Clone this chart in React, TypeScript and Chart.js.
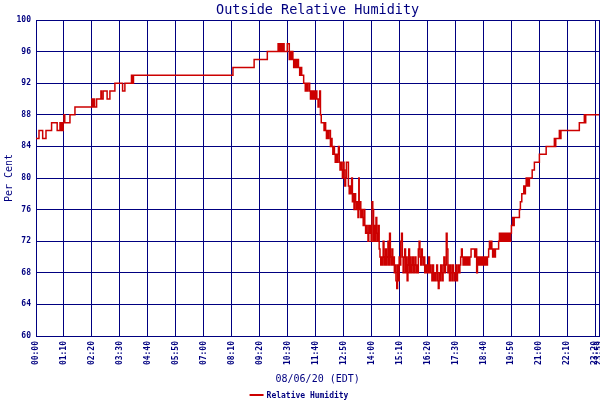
import React, { useEffect, useRef } from "react";
import { Chart, registerables } from "chart.js";

Chart.register(...registerables);

const TITLE = "Outside Relative Humidity";
const X_TITLE = "08/06/20 (EDT)";
const Y_TITLE = "Per Cent";
const SERIES_LABEL = "Relative Humidity";

const NAVY = "#000080";
const RED = "#CC0000";
const MONO = "'DejaVu Sans Mono', 'Liberation Mono', monospace";

// x axis: minutes since midnight, ticks every 70 minutes
const xTickMinutes = [0, 70, 140, 210, 280, 350, 420, 490, 560, 630, 700, 770, 840, 910, 980, 1050, 1120, 1190, 1260, 1330, 1400, 1410];
const xTickLabels = ["00:00", "01:10", "02:20", "03:30", "04:40", "05:50", "07:00", "08:10", "09:20", "10:30", "11:40", "12:50", "14:00", "15:10", "16:20", "17:30", "18:40", "19:50", "21:00", "22:10", "23:20", "23:59"];
const X_MIN = 0;
const X_MAX = 1410;

const Y_MIN = 60;
const Y_MAX = 100;
const Y_STEP = 4;

// [minute, relative humidity %] — values hold until the next reading (stepped)
const morning: [number, number][] = [
  [0, 85], [7.5, 86], [16.7, 85], [25, 86], [39, 87], [53, 86], [60, 87], [62, 86], [64, 87], [66, 86], [68, 87],
  [70, 88], [72, 87], [85, 88], [97.5, 89], [140, 90], [141, 89], [142, 90], [143.5, 89], [145, 90], [146.5, 89],
  [151.7, 90], [162.5, 91], [164, 90], [168, 91], [178, 90], [185, 91], [197.5, 92], [216.7, 91], [222.5, 92],
  [239, 93], [240, 92], [241.5, 93], [243, 92], [244, 93],
];

const peak: [number, number][] = [
  [493, 94], [546, 95], [579, 96], [606, 97], [608, 96], [610, 97], [613, 96], [615, 97], [617, 96], [619, 97],
  [621, 96], [629, 97], [634, 95], [636, 96], [638, 95], [640, 96], [643, 95], [645, 94], [647, 95], [649, 94],
  [651, 95], [653, 94], [655, 95], [657, 94], [660, 93], [663, 94], [665, 93], [670, 92], [674, 91], [676, 92],
  [678, 91], [681, 92], [685, 91], [687, 90], [689, 91], [691, 90], [693, 91], [695, 90], [697, 91], [699, 90],
  [701, 91], [703, 90], [706, 89], [708, 90], [710, 91], [712, 88], [714, 87], [721, 86], [723, 87], [725, 86],
  [727, 85], [729, 86], [731, 85], [733, 86],
];

const descent: [number, number][] = [
  [735, 86], [737, 84], [739, 85], [741, 84], [743, 83], [745, 84], [747, 83], [749, 82], [751, 83], [753, 82],
  [755, 83], [757, 84], [759, 82], [761, 81], [763, 82], [765, 81], [767, 80], [769, 82], [771, 81], [773, 79],
  [775, 80], [777, 82], [780, 82], [782, 79], [784, 78], [786, 79], [788, 78], [790, 80], [792, 77], [794, 78],
  [796, 76], [798, 78], [800, 77], [802, 76], [804, 77], [806, 75], [808, 80], [809, 76], [811, 77], [813, 75],
  [815, 76], [817, 75], [819, 74], [821, 76], [823, 74], [825, 73], [827, 74], [829, 73], [831, 72], [833, 74],
  [835, 73], [837, 74], [839, 72], [841, 77], [843, 76], [845, 72], [847, 74], [849, 72], [851, 75], [853, 73],
  [855, 72], [857, 74], [859, 71], [861, 70], [863, 69], [865, 70], [867, 69], [869, 72], [871, 70], [873, 69],
  [875, 71], [877, 69], [879, 70], [881, 72], [883, 69], [885, 73], [887, 70], [889, 69], [891, 71], [893, 69],
  [895, 70], [897, 68], [899, 69], [901, 67], [903, 66], [905, 69], [907, 67], [909, 70], [911, 69], [913, 72],
  [915, 73], [917, 70], [919, 68], [921, 70], [923, 71], [925, 68], [927, 70], [929, 67], [931, 69], [933, 71],
];

const trough: [number, number][] = [
  [935, 68], [937, 70], [939, 68], [941, 69], [943, 70], [945, 68], [947, 69], [949, 70], [951, 68], [953, 69],
  [955, 68], [957, 71], [959, 72], [961, 70], [963, 69], [965, 71], [967, 70], [969, 69], [971, 70], [973, 68],
  [975, 69], [977, 68], [979, 69], [981, 68], [983, 70], [985, 68], [987, 69], [989, 68], [991, 67], [993, 69],
  [995, 67], [997, 68], [999, 67], [1001, 68], [1003, 69], [1005, 67], [1007, 66], [1009, 68], [1011, 67], [1013, 69],
  [1015, 68], [1017, 67], [1019, 69], [1021, 70], [1023, 68], [1025, 69], [1027, 73], [1029, 71], [1031, 68], [1033, 69],
  [1035, 67], [1037, 69], [1039, 68], [1041, 67], [1043, 69], [1045, 68], [1047, 67], [1049, 68], [1051, 69], [1053, 67],
  [1055, 68], [1057, 69], [1059, 68], [1061, 69], [1063, 70], [1065, 71], [1067, 70], [1069, 69], [1071, 70], [1073, 69],
  [1075, 70], [1077, 69], [1080, 70], [1083, 69], [1086, 70], [1089, 71], [1098, 70], [1101, 71], [1103, 68], [1105, 70],
  [1107, 69], [1109, 70], [1111, 69], [1113, 70], [1115, 69], [1117, 70], [1119, 69], [1121, 70], [1123, 69], [1125, 70],
  [1127, 69], [1130, 70], [1133, 71], [1135, 72], [1137, 71], [1139, 72], [1141, 71], [1143, 70], [1145, 71], [1148, 70],
  [1150, 71], [1158, 72], [1160, 73], [1162, 72], [1164, 73], [1166, 72], [1168, 73], [1170, 72], [1172, 73], [1174, 72],
  [1176, 73], [1178, 72], [1180, 73], [1182, 72], [1184, 73], [1186, 72], [1188, 73],
];

const rise: [number, number][] = [
  [1190, 74], [1193, 75], [1195, 74], [1197, 75], [1210, 76], [1212.5, 77], [1216, 78], [1221, 79], [1223, 78],
  [1225, 79], [1227, 80], [1229, 79], [1231, 80], [1233, 79], [1235, 80], [1242, 81], [1247.5, 82], [1260, 83],
  [1277, 84], [1297.5, 85], [1299, 84], [1301, 85], [1310, 86], [1312, 85], [1314, 86], [1360, 87], [1372.5, 88],
  [1374, 87], [1376, 88], [1410, 88],
];

const textPlugin = {
  id: "staticTexts",
  afterDraw(chart: any) {
    const { ctx, chartArea } = chart;
    const cx = (chartArea.left + chartArea.right) / 2;
    const cy = (chartArea.top + chartArea.bottom) / 2;
    ctx.save();
    ctx.fillStyle = NAVY;
    ctx.textAlign = "center";
    ctx.textBaseline = "alphabetic";
    ctx.font = `13.5px ${MONO}`;
    ctx.fillText(TITLE, cx, 14);
    ctx.font = `10px ${MONO}`;
    ctx.fillText(X_TITLE, cx, 382);
    ctx.save();
    ctx.translate(11.5, cy);
    ctx.rotate(-Math.PI / 2);
    ctx.fillText(Y_TITLE, 0, 0);
    ctx.restore();
    // legend
    ctx.font = `bold 8px ${MONO}`;
    const tw = ctx.measureText(SERIES_LABEL).width;
    const total = 14 + 3 + tw;
    const lx = 299 - total / 2;
    ctx.fillStyle = RED;
    ctx.fillRect(lx, 394, 14, 2);
    ctx.fillStyle = NAVY;
    ctx.textAlign = "left";
    ctx.fillText(SERIES_LABEL, lx + 17, 398);
    ctx.restore();
  },
};

export default function App() {
  const canvasRef = useRef<HTMLCanvasElement | null>(null);

  useEffect(() => {
    if (!canvasRef.current) return;
    const points = [...morning, ...peak, ...descent, ...trough, ...rise].map(([x, y]) => ({ x, y }));
    const tickFont = { family: MONO, size: 8, weight: "bold" as const };
    const chart = new Chart(canvasRef.current, {
      type: "line",
      data: {
        datasets: [
          {
            label: SERIES_LABEL,
            data: points,
            borderColor: RED,
            backgroundColor: RED,
            borderWidth: 1.5,
            pointRadius: 0,
            stepped: true,
            fill: false,
          },
        ],
      },
      options: {
        animation: false,
        responsive: false,
        devicePixelRatio: 1,
        layout: { padding: { top: 20, right: 0.7, bottom: 0, left: 0 } },
        plugins: {
          legend: { display: false },
          title: { display: false },
          tooltip: { enabled: false },
        },
        scales: {
          x: {
            type: "linear",
            min: X_MIN,
            max: X_MAX,
            afterBuildTicks: (scale: any) => {
              scale.ticks = xTickMinutes.map((value) => ({ value }));
            },
            afterFit: (scale: any) => {
              scale.height = 64;
              scale.paddingLeft = 0;
              scale.paddingRight = 0;
            },
            ticks: {
              autoSkip: false,
              minRotation: 90,
              maxRotation: 90,
              padding: 5,
              color: NAVY,
              font: tickFont,
              callback: (_v: any, i: number) => xTickLabels[i],
            },
            grid: { color: NAVY, lineWidth: 1, drawTicks: false },
            border: { color: NAVY, width: 1 },
          },
          y: {
            type: "linear",
            min: Y_MIN,
            max: Y_MAX,
            afterFit: (scale: any) => {
              scale.width = 36;
            },
            ticks: {
              stepSize: Y_STEP,
              padding: 5,
              color: NAVY,
              font: tickFont,
            },
            grid: { color: NAVY, lineWidth: 1, drawTicks: false },
            border: { color: NAVY, width: 1 },
          },
        },
      },
      plugins: [textPlugin],
    });
    return () => chart.destroy();
  }, []);

  return (
    <div style={{ position: "fixed", left: 0, top: 0, width: 600, height: 400, background: "#fff" }}>
      <canvas ref={canvasRef} width={600} height={400} style={{ display: "block" }} />
    </div>
  );
}
